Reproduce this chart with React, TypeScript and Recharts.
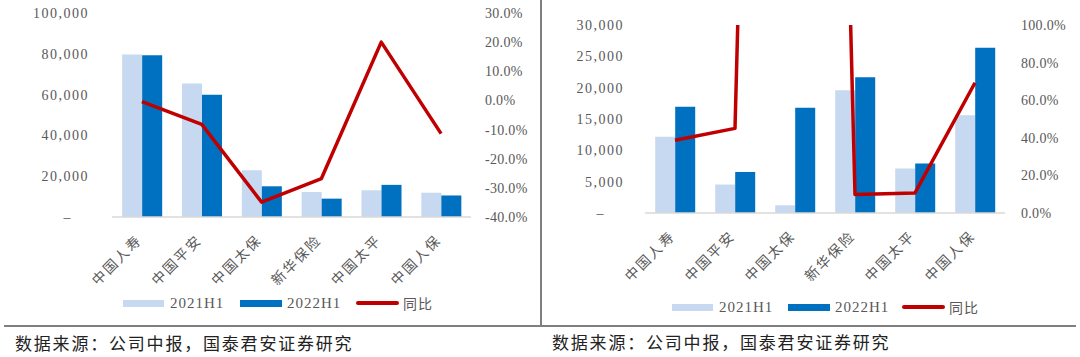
import React from 'react';
import { ComposedChart, Bar, Line, XAxis, YAxis } from 'recharts';

// data (left: premium scale, right: second panel)
const categories = ['中国人寿', '中国平安', '中国太保', '新华保险', '中国太平', '中国人保'];

const left2021 = [79600, 65500, 22900, 12250, 13100, 11900];
const left2022 = [79300, 59950, 15050, 9000, 15750, 10550];
const leftYoY = [-0.4, -8.2, -34.9, -26.8, 20.0, -11.4];
const leftTicks = [0, 20000, 40000, 60000, 80000, 100000];
const leftPctTicks = [-40, -30, -20, -10, 0, 10, 20, 30];

const right2021 = [12150, 4540, 1230, 19600, 7100, 15600];
const right2022 = [16950, 6550, 16800, 21650, 7900, 26350];
const rightYoY = [38.7, 45.0, 1250, 9.8, 10.7, 69.3];
const rightTicks = [0, 5000, 10000, 15000, 20000, 25000, 30000];
const rightPctTicks = [0, 20, 40, 60, 80, 100];

const legendNames = ['2021H1', '2022H1', '同比'];
const source = '数据来源：公司中报，国泰君安证券研究';

const LIGHT = '#c6d9f0';
const DARK = '#0070c0';
const RED = '#c00000';
const TICK = '#595959';
const SERIF = '"Liberation Serif", "DejaVu Serif", serif';
const CJK = '"Noto Sans CJK SC", sans-serif';

const build = (a: number[], b: number[], c: number[]) =>
    categories.map((name, i) => ({ name, h21: a[i], h22: b[i], yoy: c[i] }));

const leftData = build(left2021, left2022, leftYoY);
const rightData = build(right2021, right2022, rightYoY);

const CatTick = ({ x, y, payload }: any) => (
    <g transform={`translate(${x + 1},${y + 16})`}>
        <text
            transform="rotate(-45)"
            textAnchor="end"
            fontFamily={CJK}
            fontSize={14}
            letterSpacing={2}
            fill={TICK}
        >
            {payload.value}
        </text>
    </g>
);

const makeNumTick = (dashShift: number) => ({ x, y, payload }: any) => {
    const v = payload.value;
    return (
        <text
            x={v === 0 ? x - dashShift : x}
            y={y}
            dy="0.355em"
            textAnchor="end"
            fontFamily={SERIF}
            fontSize={14}
            letterSpacing={1.5}
            fill={TICK}
        >
            {v === 0 ? '–' : v.toLocaleString('en-US')}
        </text>
    );
};

const PctTick = ({ x, y, payload }: any) => (
    <text
        x={x}
        y={y}
        dy="0.355em"
        textAnchor="start"
        fontFamily={SERIF}
        fontSize={14}
        letterSpacing={0.3}
        fill={TICK}
    >
        {`${payload.value.toFixed(1)}%`}
    </text>
);

interface PanelProps {
    data: any[];
    top: number;
    xHeight: number;
    leftW: number;
    rightW: number;
    leftMargin: number;
    rightMargin: number;
    dashShift: number;
    yDomain: number[];
    yTicks: number[];
    pDomain: number[];
    pTicks: number[];
    clip?: boolean;
}

const Panel: React.FC<PanelProps> = (p) => (
    <ComposedChart
        width={540}
        height={295}
        data={p.data}
        margin={{ top: p.top, right: 0, left: 0, bottom: 0 }}
        barCategoryGap="17%"
        barGap={0}
    >
        <XAxis
            dataKey="name"
            interval={0}
            tickLine={false}
            axisLine={{ stroke: '#d9d9d9', strokeWidth: 1.5 }}
            height={p.xHeight}
            tick={<CatTick />}
        />
        <YAxis
            yAxisId="v"
            width={p.leftW}
            domain={p.yDomain}
            ticks={p.yTicks}
            interval={0}
            axisLine={false}
            tickLine={false}
            tickMargin={p.leftMargin}
            tick={makeNumTick(p.dashShift)}
        />
        <YAxis
            yAxisId="p"
            orientation="right"
            width={p.rightW}
            domain={p.pDomain}
            ticks={p.pTicks}
            interval={0}
            allowDataOverflow={!!p.clip}
            axisLine={false}
            tickLine={false}
            tickMargin={p.rightMargin}
            tick={<PctTick />}
        />
        <Bar yAxisId="v" dataKey="h21" fill={LIGHT} isAnimationActive={false} />
        <Bar yAxisId="v" dataKey="h22" fill={DARK} isAnimationActive={false} />
        <Line
            yAxisId="p"
            dataKey="yoy"
            stroke={RED}
            strokeWidth={3.5}
            strokeLinejoin="round"
            dot={false}
            activeDot={false}
            isAnimationActive={false}
        />
    </ComposedChart>
);

const LegendRow = ({ left, top }: { left: number[]; top: number }) => {
    const txt: React.CSSProperties = {
        position: 'absolute',
        top: top - 10,
        lineHeight: '20px',
        fontSize: 15,
        color: TICK,
        letterSpacing: 1,
    };
    return (
        <>
            <div style={{ position: 'absolute', left: left[0], top: top - 3, width: 41, height: 7, background: LIGHT }} />
            <div style={{ ...txt, left: left[0] + 47, fontFamily: SERIF }}>{legendNames[0]}</div>
            <div style={{ position: 'absolute', left: left[1], top: top - 3, width: 42, height: 7, background: DARK }} />
            <div style={{ ...txt, left: left[1] + 47, fontFamily: SERIF }}>{legendNames[1]}</div>
            <div style={{ position: 'absolute', left: left[2], top: top - 2, width: 43, height: 4, borderRadius: 2, background: RED }} />
            <div style={{ ...txt, left: left[2] + 47, fontFamily: CJK, fontSize: 14 }}>{legendNames[2]}</div>
        </>
    );
};

const srcStyle: React.CSSProperties = {
    position: 'absolute',
    fontFamily: CJK,
    fontSize: 17,
    lineHeight: '20px',
    letterSpacing: 1.8,
    color: '#222',
    whiteSpace: 'nowrap',
};

export default function App() {
    return (
        <div style={{ position: 'absolute', left: 0, top: 0, width: 1080, height: 357, background: '#fff', overflow: 'hidden' }}>
            <div style={{ position: 'absolute', left: 0, top: 0 }}>
                <Panel
                    data={leftData}
                    top={13}
                    xHeight={78}
                    leftW={112}
                    rightW={69}
                    leftMargin={17}
                    rightMargin={8}
                    dashShift={17}
                    yDomain={[0, 100000]}
                    yTicks={leftTicks}
                    pDomain={[-40, 30]}
                    pTicks={leftPctTicks}
                />
            </div>
            <div style={{ position: 'absolute', left: 540, top: 0 }}>
                <Panel
                    data={rightData}
                    top={25}
                    xHeight={82}
                    leftW={105}
                    rightW={75}
                    leftMargin={15}
                    rightMargin={10}
                    dashShift={19}
                    yDomain={[0, 30000]}
                    yTicks={rightTicks}
                    pDomain={[0, 100]}
                    pTicks={rightPctTicks}
                    clip
                />
            </div>

            <LegendRow left={[123, 240, 356]} top={303} />
            <LegendRow left={[672, 788, 902]} top={307} />

            {/* frame lines */}
            <div style={{ position: 'absolute', left: 540, top: 0, width: 2, height: 327, background: '#7f7f7f' }} />
            <div style={{ position: 'absolute', left: 4, top: 325, width: 1072, height: 2, background: '#7f7f7f' }} />

            <div style={{ ...srcStyle, left: 15, top: 333 }}>{source}</div>
            <div style={{ ...srcStyle, left: 552, top: 332 }}>{source}</div>
        </div>
    );
}
